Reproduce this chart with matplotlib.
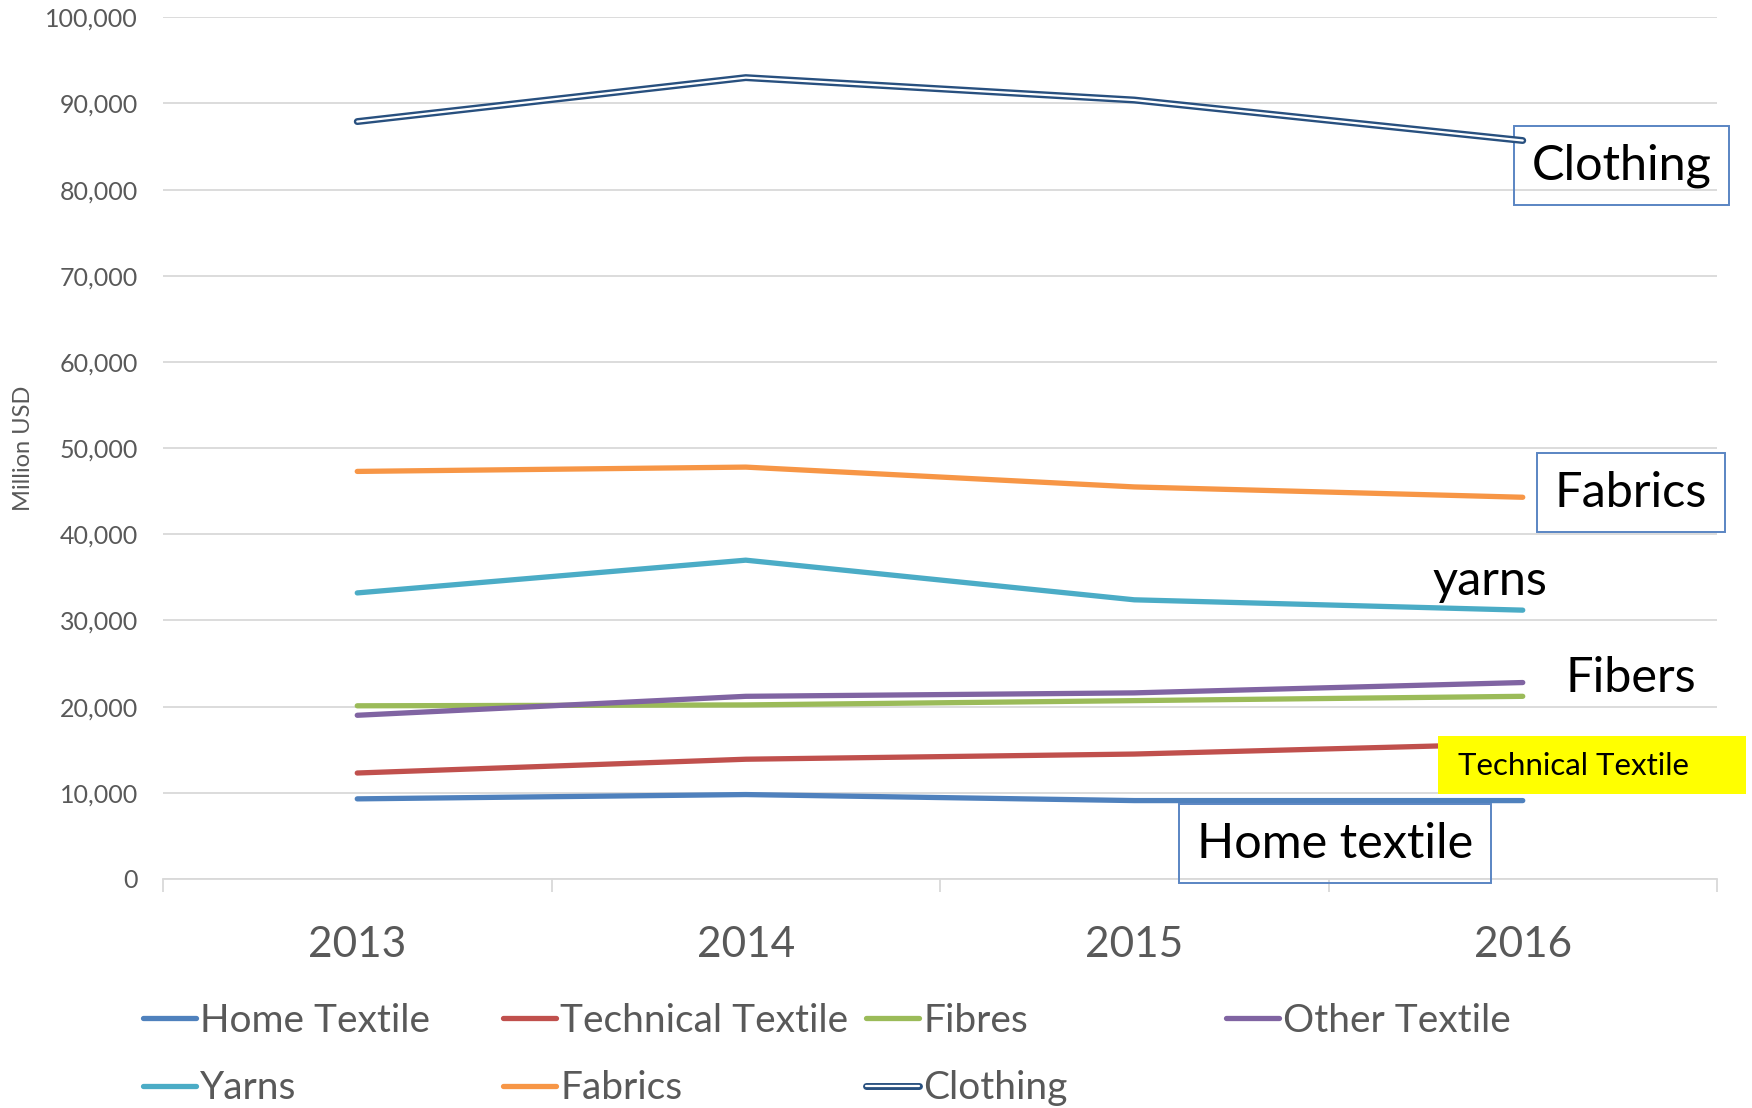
import matplotlib
matplotlib.use('Agg')
import numpy as np
import matplotlib.pyplot as plt
import matplotlib.patheffects as pe
from matplotlib.patches import Rectangle
from matplotlib.ticker import FuncFormatter

# data (Million USD)
years = ['2013', '2014', '2015', '2016']
home_textile = [9300, 9800, 9100, 9100]
technical_textile = [12300, 13900, 14500, 15700]
fibres = [20100, 20200, 20700, 21200]
other_textile = [19000, 21200, 21600, 22800]
yarns = [33200, 37000, 32400, 31200]
fabrics = [47300, 47800, 45500, 44300]
clothing = [87900, 93000, 90400, 85700]

series_names = ['Home Textile', 'Technical Textile', 'Fibres', 'Other Textile',
                'Yarns', 'Fabrics', 'Clothing']
series_colors = ['#4F81BD', '#C0504D', '#9BBB59', '#8064A2',
                 '#4BACC6', '#F79646', '#28507F']
series_values = [home_textile, technical_textile, fibres, other_textile,
                 yarns, fabrics, clothing]

plt.rcParams['font.family'] = ['Lato', 'DejaVu Sans']
grey = '#595959'
grid_grey = '#D9D9D9'

W, H = 1752, 1108
fig = plt.figure(figsize=(W / 100, H / 100), dpi=100)
ax = fig.add_axes([163 / W, 1 - 879 / H, 1554 / W, (879 - 17.3) / H])

x = np.arange(len(years)) + 0.5
lines = []
for vals, name, col in zip(series_values, series_names, series_colors):
    if name == 'Clothing':
        ln, = ax.plot(x, vals, color='white', lw=1.6, label=name, zorder=6,
                      solid_capstyle='round', solid_joinstyle='round',
                      path_effects=[pe.Stroke(linewidth=5.0, foreground=col), pe.Normal()])
    else:
        ln, = ax.plot(x, vals, color=col, lw=3.8, label=name,
                      solid_capstyle='round', solid_joinstyle='round')
    lines.append(ln)

ax.set_xlim(0, len(years))
ax.set_ylim(0, 100000)
ax.set_yticks(np.arange(0, 100001, 10000))
ax.yaxis.set_major_formatter(FuncFormatter(lambda v, p: f'{v:,.0f}'))
ax.yaxis.grid(True, color=grid_grey, lw=1.3)
ax.set_axisbelow(True)
for s in ['left', 'top', 'right']:
    ax.spines[s].set_visible(False)
ax.spines['bottom'].set_color(grid_grey)
ax.spines['bottom'].set_linewidth(1.3)

ax.set_xticks(x)
ax.set_xticklabels(years)
ax.set_xticks(np.arange(0, len(years) + 1), minor=True)
ax.tick_params(axis='x', which='major', length=0, labelsize=30.5, labelcolor=grey, pad=34)
ax.tick_params(axis='x', which='minor', length=9, width=1.3, color=grid_grey)
ax.tick_params(axis='y', length=0, labelsize=18, labelcolor=grey, pad=18)

ax.set_ylabel('Million USD', fontsize=17, color=grey)
ax.yaxis.set_label_coords(-0.083, 0.5)

# labels on the right
box = dict(boxstyle='square,pad=0.36', fc='none', ec='#5A85C3', lw=1.4)
ax.text(3.755, 82800, 'Clothing', fontsize=35, ha='center', va='center',
        bbox=box, zorder=5, clip_on=False)
ax.text(3.779, 44800, 'Fabrics', fontsize=35, ha='center', va='center',
        bbox=box, zorder=5, clip_on=False)
ax.text(3.416, 34600, 'yarns', fontsize=35, ha='center', va='center', zorder=5)
ax.text(3.779, 23300, 'Fibers', fontsize=35, ha='center', va='center', zorder=5)
ax.add_patch(Rectangle((3.282, 9860), 0.793, 6730, fc='#FFFF00', ec='none',
                       zorder=4, clip_on=False))
ax.text(3.333, 13100, 'Technical Textile', fontsize=22.5, ha='left', va='center',
        zorder=5, clip_on=False)
ax.text(3.017, 4100, 'Home textile', fontsize=35, ha='center', va='center',
        bbox=box, zorder=5)

# legend, four columns filled row by row
columns = [[0, 4], [1, 5], [2, 6], [3]]
col_x = [143, 503, 866, 1226]
for idx, cx in zip(columns, col_x):
    fig.legend(handles=[lines[i] for i in idx], loc='upper left',
               bbox_to_anchor=(cx / W, 1 - 1003 / H), frameon=False, fontsize=28,
               handlelength=1.35, handletextpad=0.12, borderpad=0, borderaxespad=0,
               labelspacing=0.8, labelcolor=grey)

fig.savefig('out.png', dpi=100)
